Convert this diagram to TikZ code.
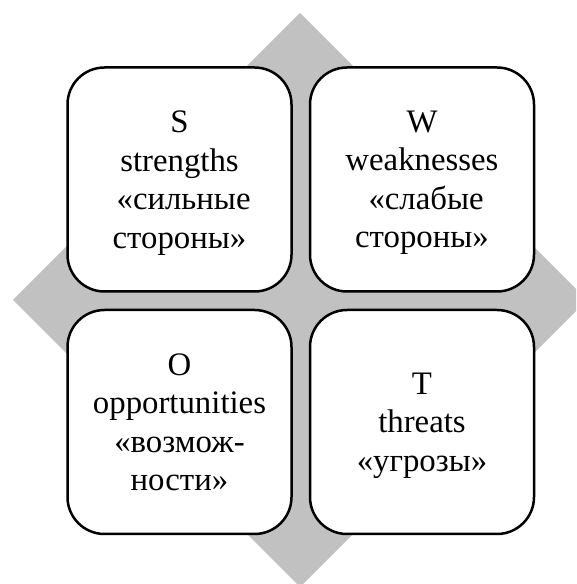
\documentclass[tikz,border=0pt]{standalone}
\usepackage{fontspec}
\setmainfont{Liberation Serif}
\usepackage{tikz}
\usetikzlibrary{positioning}
\definecolor{swotgray}{RGB}{192,193,192}

\begin{document}
\begin{tikzpicture}[
    x=1pt, y=1pt,
    font=\fontsize{32.8}{38.5}\selectfont,
    quad/.style={draw=black, line width=2.5pt, rounded corners=37pt, fill=white,
      align=center, minimum width=224pt, minimum height=224pt, inner sep=0pt,
      text depth=0pt},
    backing/.style={fill=swotgray, draw=none}
  ]
    \clip (0,0) rectangle (576,584);

    % grey diamond behind the four fields
    \path[backing] (300,571) -- (587,284) -- (300,-3) -- (13,284) -- cycle;

    \node[quad] (strengths) at (179.5,404.5) {S\\strengths\\\ «сильные\\стороны»};
    \node[quad] (weaknesses) at (422,404.5) {W\\weaknesses\\\ «слабые\\стороны»};
    \node[quad] (opportunities) at (179.5,162) {O\\opportunities\\«возмож-\\ности»};
    \node[quad] (threats) at (422,162) {T\\threats\\«угрозы»};
  \end{tikzpicture}
\end{document}
